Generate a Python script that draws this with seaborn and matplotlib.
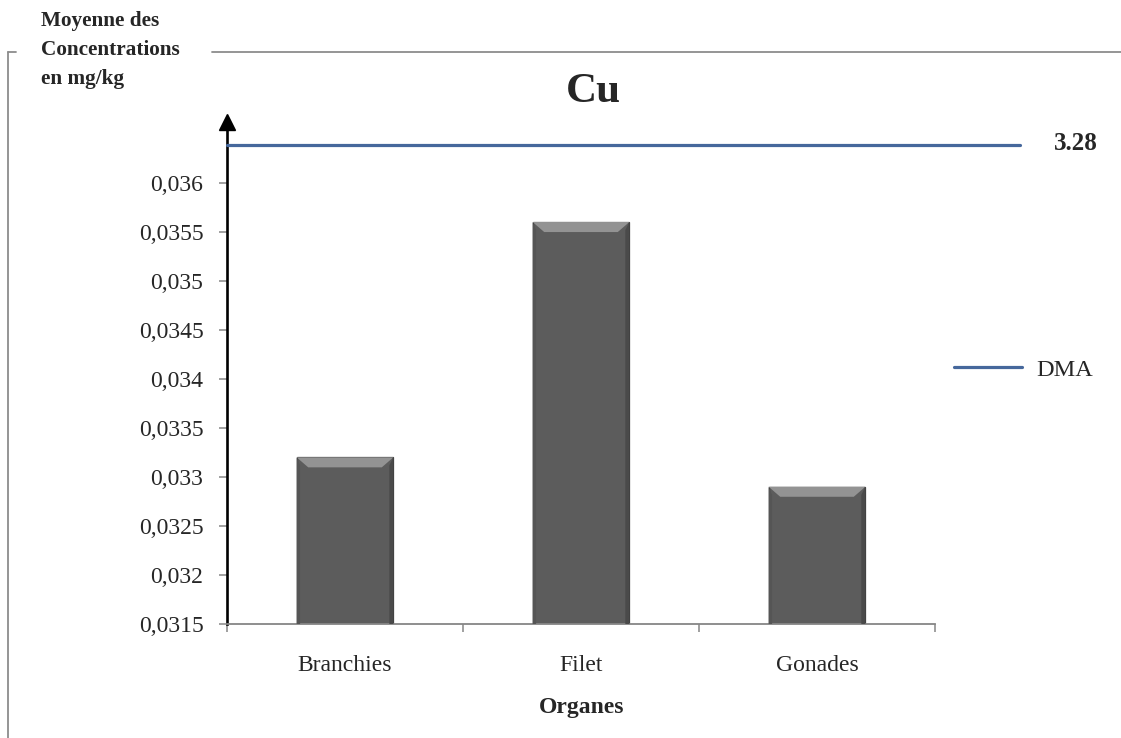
import matplotlib
matplotlib.use("Agg")
import matplotlib.pyplot as plt
from matplotlib.lines import Line2D
from matplotlib.patches import Polygon
import seaborn as sns
import pandas as pd

# ---- data ----
organes = ["Branchies", "Filet", "Gonades"]
concentrations = [0.0332, 0.0356, 0.0329]
dma_value_label = "3.28"
dma_display_level = 0.03639      # where the DMA line is drawn on the (broken) axis
ytick_values = [0.0315, 0.032, 0.0325, 0.033, 0.0335, 0.034, 0.0345, 0.035, 0.0355, 0.036]
ytick_labels = ["0,0315", "0,032", "0,0325", "0,033", "0,0335", "0,034",
                "0,0345", "0,035", "0,0355", "0,036"]
y_min, y_max = 0.0315, 0.03662

sns.set_style("white")
plt.rcParams["font.family"] = ["Liberation Serif", "DejaVu Serif"]

W, H = 1121, 738
fig = plt.figure(figsize=(W / 100, H / 100), dpi=100)
ax = fig.add_axes([227 / W, 1 - 624 / H, (935 - 227) / W, (624 - 122) / H])

df = pd.DataFrame({"Organe": organes, "Conc": concentrations})
sns.barplot(data=df, x="Organe", y="Conc", ax=ax, width=0.41,
            color="#5c5c5c", edgecolor="#3e3e3e", linewidth=0.9, saturation=1)
ax.set_ylim(y_min, y_max)
ax.set_xlim(-0.5, len(organes) - 0.5)

# bevel highlight on bar tops
for p in ax.patches:
    x0 = p.get_x()
    w = p.get_width()
    top = p.get_y() + p.get_height()
    d = w * 0.12
    h = (y_max - y_min) * 0.02
    ax.add_patch(Polygon([[x0, top], [x0 + w, top], [x0 + w - d, top - h], [x0 + d, top - h]],
                         closed=True, facecolor="#939393", edgecolor="none", zorder=3))
    ax.add_patch(Polygon([[x0 + w, top], [x0 + w - d * 0.35, top - h * 0.8],
                          [x0 + w - d * 0.35, y_min], [x0 + w, y_min]],
                         closed=True, facecolor="#4a4a4a", edgecolor="none", zorder=3))
    ax.add_patch(Polygon([[x0, top], [x0 + d * 0.3, top - h * 0.8],
                          [x0 + d * 0.3, y_min], [x0, y_min]],
                         closed=True, facecolor="#555555", edgecolor="none", zorder=3))

# DMA line
x_end = (1020 - 227) / 236 - 0.5
dma_line, = ax.plot([-0.5, x_end], [dma_display_level, dma_display_level],
                    color="#46689c", linewidth=2.3, clip_on=False, zorder=4, label="DMA")

# axes styling
for s in ["top", "right"]:
    ax.spines[s].set_visible(False)
ax.spines["left"].set_color("black")
ax.spines["left"].set_linewidth(1.9)
ax.spines["bottom"].set_color("#868686")
ax.spines["bottom"].set_linewidth(1.3)

ax.set_yticks(ytick_values)
ax.set_yticklabels(ytick_labels)
ax.tick_params(axis="y", which="major", length=6, width=1.1, color="#868686",
               pad=11, labelsize=17, left=True, direction="out")

ax.set_xticks(range(len(organes)))
ax.set_xticklabels(organes)
ax.set_xticks([i - 0.5 for i in range(len(organes) + 1)], minor=True)
ax.tick_params(axis="x", which="major", length=0, pad=22, labelsize=17)
ax.tick_params(axis="x", which="minor", length=6, width=1.1, color="#868686",
               bottom=True, direction="out")
ax.set_xlabel("")
ax.set_ylabel("")

# arrow head on y axis
ax.plot([-0.5], [y_max], marker="^", markersize=11, color="black",
        clip_on=False, zorder=5)

# texts
fig.text(593 / W, 1 - 92 / H, "Cu", fontsize=31, fontweight="bold",
         ha="center", va="center")
fig.text(1054 / W, 1 - 143 / H, dma_value_label, fontsize=18, fontweight="bold",
         ha="left", va="center")
fig.text(41 / W, 1 - 11 / H, "Moyenne des\nConcentrations\nen mg/kg", fontsize=15.3,
         fontweight="bold", ha="left", va="top", linespacing=1.6)
fig.text(582 / W, 1 - 707 / H, "Organes", fontsize=17, fontweight="bold",
         ha="center", va="center")

# legend
fig.legend(handles=[dma_line], labels=["DMA"], loc="center left",
           bbox_to_anchor=(954 / W, 1 - 370 / H), frameon=False, fontsize=17.5,
           handlelength=2.8, handletextpad=0.6, borderpad=0, borderaxespad=0)

# outer frame fragments
frame_c = "#8c8c8c"
fig.add_artist(Line2D([8 / W, 8 / W], [1 - 52 / H, 0], color=frame_c, linewidth=1.3))
fig.add_artist(Line2D([8 / W, 16 / W], [1 - 52 / H, 1 - 52 / H], color=frame_c, linewidth=1.3))
fig.add_artist(Line2D([212 / W, 1], [1 - 52 / H, 1 - 52 / H], color=frame_c, linewidth=1.3))

fig.savefig("out.png", dpi=100)
